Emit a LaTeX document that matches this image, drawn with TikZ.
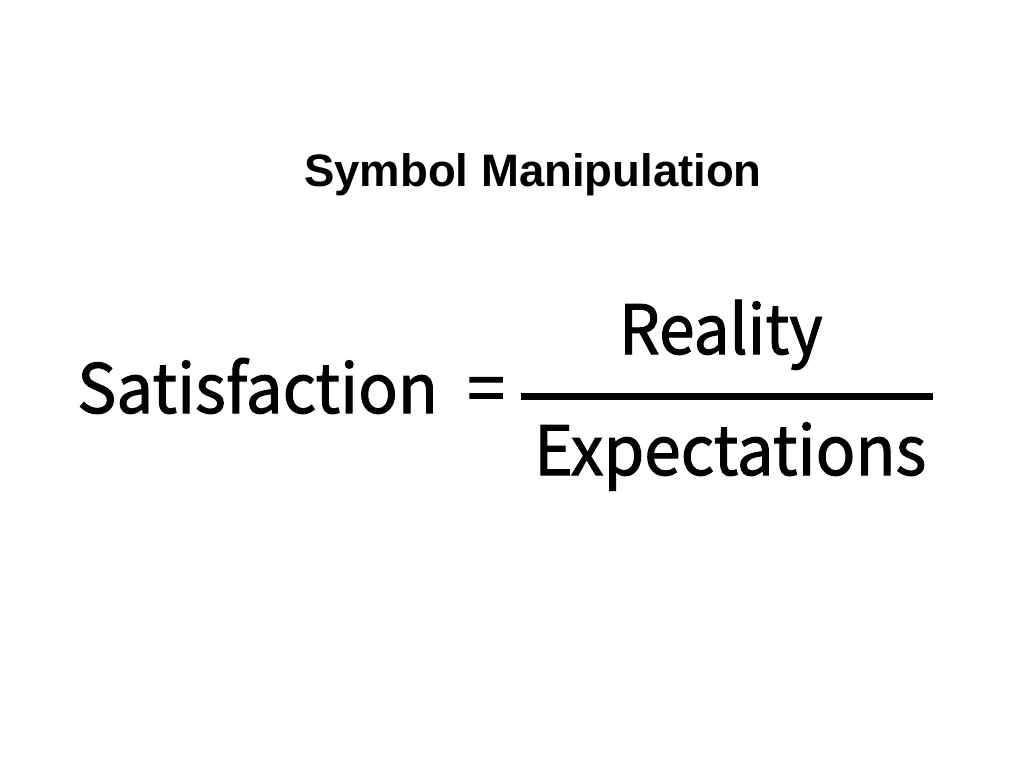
\documentclass[tikz,border=0pt]{standalone}
\usepackage{fontspec}
\setmainfont{Liberation Sans}
\newfontfamily\eqfont[FakeBold=1.5]{Noto Sans CJK JP}
\newcommand{\squeeze}[2]{\scalebox{#1}[1]{#2}}
\begin{document}
\begin{tikzpicture}[x=1pt,y=-1pt,
    eqtext/.style={inner sep=0pt,anchor=base west,font=\eqfont\fontsize{68}{80}\selectfont}]
        \useasboundingbox[fill=white] (0,0) rectangle (1024,768);
        %% Title
        \node[inner sep=0pt,anchor=base,font=\fontsize{45.5}{54}\selectfont\bfseries] (title) at (533,186) {Symbol Manipulation};
        %% Left side
        \node[eqtext] (lhs) at (77,413) {\squeeze{0.965}{Satisfaction}};
        \node[eqtext] (eq) at (467,413) {=};
        %% Fraction
        \coordinate (barL) at (521,396.5);
        \coordinate (barR) at (933,396.5);
        \draw[line width=7pt] (barL) -- (barR);
        \node[eqtext] (num) at (619,354) {\squeeze{0.94}{Reality}};
        \node[eqtext] (den) at (534,475) {\squeeze{0.967}{Expectations}};
    \end{tikzpicture}
\end{document}
